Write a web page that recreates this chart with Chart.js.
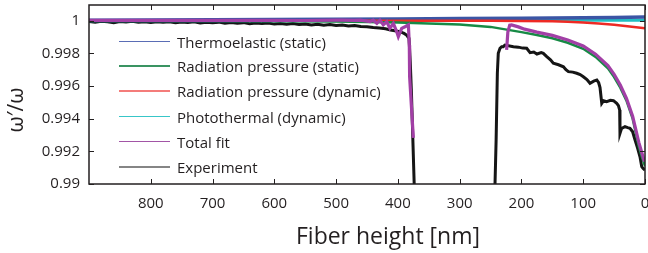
<!DOCTYPE html>
<html><head><meta charset="utf-8">
<script src="https://cdn.jsdelivr.net/npm/chart.js@4/dist/chart.umd.min.js"></script>
<style>
html,body{margin:0;padding:0;background:#fff;}
#wrap{position:relative;width:648px;height:253px;overflow:hidden;}
#legend{position:absolute;left:119px;top:0;font-family:'Open Sans',sans-serif;font-size:15px;color:#231f20;}
.row{position:absolute;left:0;height:20px;white-space:nowrap;}
.row .ln{position:absolute;left:0;width:51px;}
.row .tx{position:absolute;left:58px;top:0;line-height:20px;}
</style></head>
<body><div id="wrap"><canvas id="c" width="648" height="253"></canvas><div id="legend"></div></div>
<script>
// ---------- data ----------
const xTickValues = [800, 700, 600, 500, 400, 300, 200, 100, 0];
const yTickValues = [0.99, 0.992, 0.994, 0.996, 0.998, 1.0];
const xTitle = 'Fiber height [nm]';
const yTitle = 'ω′/ω';

// Thermoelastic (static)
const teX = [900, 800, 700, 600, 500, 400, 300, 200, 150, 100, 50, 0];
const teY = [1.00003, 1.00004, 1.00005, 1.00007, 1.00009, 1.00011, 1.00013, 1.00015, 1.00016, 1.00018, 1.0002, 1.00022];

// Radiation pressure (static)
const rsX = [900, 700, 500, 400, 300, 250, 200, 175, 150, 125, 100, 80, 60, 50, 40, 30, 20, 10, 5, 0];
const rsY = [1.0, 0.99999, 0.99995, 0.99989, 0.99976, 0.99962, 0.9993, 0.99912, 0.99892, 0.99865, 0.99828, 0.99778, 0.99708, 0.99655, 0.9959, 0.9951, 0.994, 0.9923, 0.99165, 0.9911];

// Radiation pressure (dynamic)
const rdX = [900, 600, 400, 250, 200, 150, 125, 100, 75, 50, 25, 0];
const rdY = [1.0, 1.0, 1.0, 0.99999, 0.99998, 0.99996, 0.99993, 0.99989, 0.99983, 0.99975, 0.99965, 0.99953];

// Photothermal (dynamic)
const ptX = [900, 600, 400, 200, 100, 0];
const ptY = [1.0, 1.0, 1.00001, 1.00002, 1.00003, 1.00003];

// Total fit
const tfX = [900, 800, 700, 600, 550, 494, 470, 461, 445, 440, 434, 429, 423.6, 418, 413, 407.4, 402, 399.3, 393.8, 388.5, 383, 381.5, 381, 375, 374,
             224, 222, 219, 216, 205, 195, 175, 150, 125, 100, 80, 60, 50, 40, 30, 20, 10, 5, 1];
const tfY = [1.00002, 1.00002, 1.00002, 1.00002, 1.00001, 1.00003, 1.00002, 1.00003, 0.99994, 1.00003, 0.99984, 1.00003, 0.99974, 0.99994, 0.99953, 0.99984, 0.99933, 0.99902, 0.99953, 0.99963, 0.99974, 0.9985, 0.99657, 0.99282, null,
             0.99821, 0.9993, 0.99972, 0.99974, 0.99962, 0.99948, 0.9993, 0.9991, 0.99882, 0.99845, 0.99795, 0.99725, 0.99672, 0.99606, 0.99525, 0.99415, 0.99255, 0.9919, 0.99137];

// Experiment
const exX = [900, 890, 880, 870, 860, 850, 840, 830, 820, 810, 800, 790, 780, 770, 760, 750, 740, 730, 720, 710,
             700, 690, 680, 670, 660, 650, 640, 630, 620, 610, 600, 590, 580, 570, 560, 550, 540, 530, 520, 510,
             500, 490, 480, 470, 460, 450, 440, 430, 420, 412, 405, 397, 390, 386, 382, 380, 378, 376, 372,
             244, 242.8, 241, 239, 237.5, 234.7, 232, 229.4, 226.6, 213, 205, 198, 191.5, 186, 180, 175, 168, 164.6, 159, 153, 148.4,
             140, 132, 128, 124, 117, 110.5, 105, 99.8, 94, 89, 83, 78, 75, 72.8, 70, 67, 62, 56, 51, 45.8,
             43, 41, 40.5, 38, 32.4, 28, 24.3, 20, 16.2, 12, 8.1, 5.3, 3, 0];
const exY = [0.99995, 0.9999, 0.99996, 0.99993, 0.99988, 0.99995, 0.99992, 0.99996, 0.9999, 0.99993, 0.99989, 0.99994, 0.9999, 0.99993, 0.99987, 0.99992, 0.99989, 0.99993, 0.99986, 0.9999,
             0.99987, 0.99991, 0.99984, 0.99989, 0.99985, 0.99988, 0.99981, 0.99986, 0.99982, 0.99985, 0.99979, 0.99983, 0.99978, 0.99982, 0.99976, 0.9998, 0.99974, 0.99978, 0.99972, 0.99976,
             0.9997, 0.99973, 0.99968, 0.99971, 0.99965, 0.99963, 0.99958, 0.99955, 0.9995, 0.99943, 0.99938, 0.99933, 0.99922, 0.99912, 0.99892, 0.9975, 0.9955, 0.993, 0.988,
             0.988, 0.99, 0.99268, 0.99678, 0.998, 0.99831, 0.99841, 0.99841, 0.99851, 0.99841, 0.99838, 0.99832, 0.99831, 0.99804, 0.99808, 0.99796, 0.99805, 0.998, 0.9978, 0.9976, 0.99739,
             0.9973, 0.99718, 0.997, 0.99688, 0.99685, 0.99678, 0.9967, 0.99657, 0.9964, 0.99617, 0.9963, 0.99637, 0.9962, 0.9959, 0.99494, 0.9951, 0.99504, 0.99512, 0.9951, 0.99494,
             0.9948, 0.99453, 0.9931, 0.9934, 0.99351, 0.99345, 0.99341, 0.9932, 0.9927, 0.9922, 0.99167, 0.99106, 0.99095, 0.99086];

// ---------- build ----------
const pts = (xs, ys) => xs.map((v, i) => ({x: v, y: ys[i]}));
const TXT = '#231f20';

const datasets = [
  {label: 'Thermoelastic (static)', data: pts(teX, teY), borderColor: '#3b55a5', borderWidth: 3.5, order: 4, legendColor: '#5a6db5', legendWidth: 1.5},
  {label: 'Radiation pressure (static)', data: pts(rsX, rsY), borderColor: '#178a45', borderWidth: 2.5, order: 2, legendColor: '#3a9462', legendWidth: 1.5},
  {label: 'Radiation pressure (dynamic)', data: pts(rdX, rdY), borderColor: '#ee2a24', borderWidth: 2.5, order: 3, legendColor: '#f47c7a', legendWidth: 2},
  {label: 'Photothermal (dynamic)', data: pts(ptX, ptY), borderColor: '#22bfc2', borderWidth: 3, order: 5, legendColor: '#38c6c8', legendWidth: 1.5},
  {label: 'Total fit', data: pts(tfX, tfY), borderColor: '#a23fa6', borderWidth: 3.2, order: 0, legendColor: '#a255a6', legendWidth: 1.5},
  {label: 'Experiment', data: pts(exX, exY), borderColor: '#151515', borderWidth: 3, order: 6, legendColor: '#858585', legendWidth: 2}
];
datasets.forEach(d => { d.pointRadius = 0; d.tension = 0; d.spanGaps = false; d.fill = false; });

const framePlugin = {
  id: 'frame',
  afterDatasetsDraw(chart) {
    const {ctx, chartArea: a, scales: {x, y}} = chart;
    ctx.save();
    ctx.strokeStyle = TXT;
    ctx.lineWidth = 1.5;
    ctx.strokeRect(a.left, a.top, a.right - a.left, a.bottom - a.top);
    ctx.lineWidth = 1;
    ctx.beginPath();
    x.ticks.forEach(t => {
      const px = Math.round(x.getPixelForValue(t.value)) + 0.5;
      ctx.moveTo(px, a.bottom); ctx.lineTo(px, a.bottom - 5);
      ctx.moveTo(px, a.top); ctx.lineTo(px, a.top + 5);
    });
    y.ticks.forEach(t => {
      const py = Math.round(y.getPixelForValue(t.value)) + 0.5;
      ctx.moveTo(a.left, py); ctx.lineTo(a.left + 5, py);
      ctx.moveTo(a.right, py); ctx.lineTo(a.right - 5, py);
    });
    ctx.stroke();
    ctx.fillStyle = TXT;
    ctx.textAlign = 'center';
    ctx.textBaseline = 'middle';
    // x-axis title (offset to the right of the plot centre, as in the figure)
    ctx.font = '23px "Open Sans"';
    ctx.fillText(xTitle, 388, 237);
    // y-axis title
    ctx.translate(17, 110);
    ctx.rotate(-Math.PI / 2);
    ctx.font = '21px "Open Sans"';
    ctx.fillText(yTitle, 0, 0);
    ctx.restore();
  }
};

Chart.defaults.font.family = "'Open Sans', sans-serif";
Chart.defaults.color = TXT;

new Chart(document.getElementById('c'), {
  type: 'line',
  data: {datasets},
  options: {
    responsive: false,
    animation: false,
    devicePixelRatio: 1,
    layout: {padding: {top: 5, right: 3, left: 0, bottom: 0}},
    plugins: {legend: {display: false}, tooltip: {enabled: false}},
    scales: {
      x: {
        type: 'linear', reverse: true, min: 0, max: 900,
        grid: {display: false, drawTicks: false},
        border: {display: false},
        afterBuildTicks: s => { s.ticks = xTickValues.map(v => ({value: v})); },
        afterFit: s => { s.height = 69; s.paddingLeft = 0; s.paddingRight = 0; },
        ticks: {font: {size: 15}, padding: 11, maxRotation: 0, color: TXT},
        title: {display: false, text: xTitle}
      },
      y: {
        type: 'linear', min: 0.99, max: 1.00096,
        grid: {display: false, drawTicks: false},
        border: {display: false},
        afterBuildTicks: s => { s.ticks = yTickValues.map(v => ({value: v})); },
        afterFit: s => { s.width = 89; s.paddingTop = 0; s.paddingBottom = 0; },
        ticks: {font: {size: 15}, padding: 9, color: TXT,
          callback: v => String(parseFloat(Number(v).toFixed(3)))},
        title: {display: false, text: yTitle}
      }
    }
  },
  plugins: [framePlugin]
});

// HTML legend built from the datasets
const rowCenters = [41.7, 65.9, 90.9, 116.7, 141.5, 166.7];
const leg = document.getElementById('legend');
datasets.forEach((d, i) => {
  const row = document.createElement('div');
  row.className = 'row';
  row.style.top = (rowCenters[i] - 10) + 'px';
  const ln = document.createElement('div');
  ln.className = 'ln';
  ln.style.top = (10 - d.legendWidth / 2) + 'px';
  ln.style.height = d.legendWidth + 'px';
  ln.style.background = d.legendColor;
  const tx = document.createElement('span');
  tx.className = 'tx';
  tx.textContent = d.label;
  row.appendChild(ln); row.appendChild(tx);
  leg.appendChild(row);
});
</script>
</body></html>
